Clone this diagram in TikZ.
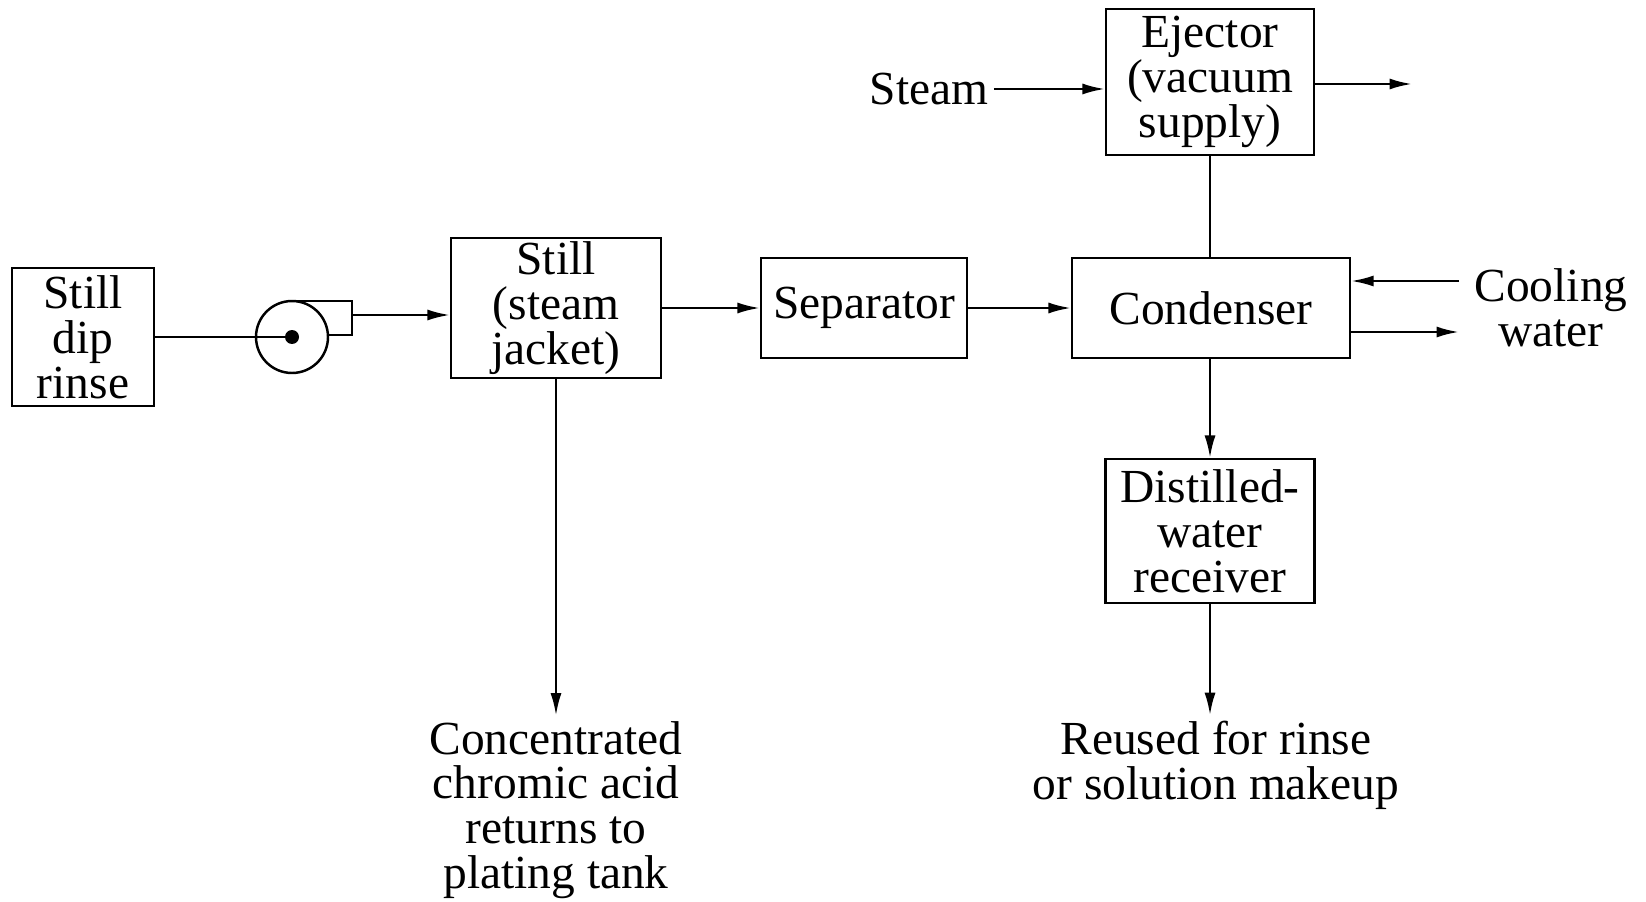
\documentclass[tikz,border=0pt]{standalone}
\usepackage{fontspec}
\setmainfont{Liberation Serif}
\usetikzlibrary{arrows.meta,positioning}
\tikzset{
  unit/.style={draw, line width=1.2pt, align=center, inner sep=2pt},
  label/.style={align=center, inner sep=3pt},
  pipe/.style={line width=1.4pt},
  flow/.style={pipe, -{Latex[length=4.5mm,width=2.2mm]}},
}
\begin{document}
\begin{tikzpicture}[x=0.02cm,y=-0.02cm,font=\fontsize{27}{25.5}\selectfont]
\useasboundingbox (0,0) rectangle (1646,902);
%process units
\node[unit, minimum width=2.84cm, minimum height=2.76cm] (dip) at (83,337) {Still\\dip\\rinse};
\node[unit, minimum width=4.2cm, minimum height=2.72cm] (still) at (556,308) {Still\\(steam\\jacket)};
\node[unit, minimum width=4.12cm, minimum height=2cm] (sep) at (864,308) {Separator};
\node[unit, minimum width=5.56cm, minimum height=2cm] (cond) at (1211,308) {Condenser};
\node[unit, minimum width=4.16cm, minimum height=2.92cm] (eject) at (1210,82) {Ejector\\(vacuum\\supply)};
\node[unit, minimum width=4.18cm, minimum height=2.88cm] (recv) at (1210,531) {Distilled-\\water\\receiver};
%pump between rinse tank and still
\coordinate (pump) at (292,337);
\draw[pipe] (pump) circle[radius=0.72cm];
\fill (pump) circle[radius=0.14cm];
\draw[pipe] (292,301) -- (352,301) -- (352,335) -- (328,335);
\coordinate (pumpout) at (352,315);
\draw[pipe] (dip.east) -- (pump);
\draw[flow] (pumpout) -- (pumpout -| still.west);
%main line
\draw[flow] (still.east) -- (sep.west);
\draw[flow] (sep.east) -- (cond.west);
\draw[pipe] (eject.south) -- (eject.south |- cond.north);
\draw[flow] (recv.north |- cond.south) -- (recv.north);
%steam to ejector
\node[label] (steam) at (929,89) {Steam};
\coordinate (vent) at (1412,84);
\draw[flow] (steam.east) -- (steam.east -| eject.west);
\draw[flow] (vent -| eject.east) -- (vent);
%cooling water
\node[label] (cool) at (1551,308) {Cooling\\water};
\coordinate (cwin) at (1459,281); \coordinate (cwout) at (1459,332);
\draw[flow] (cwin) -- (cwin -| cond.east);
\draw[flow] (cwout -| cond.east) -- (cwout);
%products
\node[label] (acid) at (556,810) {Concentrated\\chromic acid\\returns to\\plating tank};
\draw[flow] (still.south) -- (still.south |- acid.north);
\node[label] (reuse) at (1216,765) {Reused for rinse\\or solution makeup};
\draw[flow] (recv.south) -- (recv.south |- reuse.north);
\end{tikzpicture}
\end{document}
